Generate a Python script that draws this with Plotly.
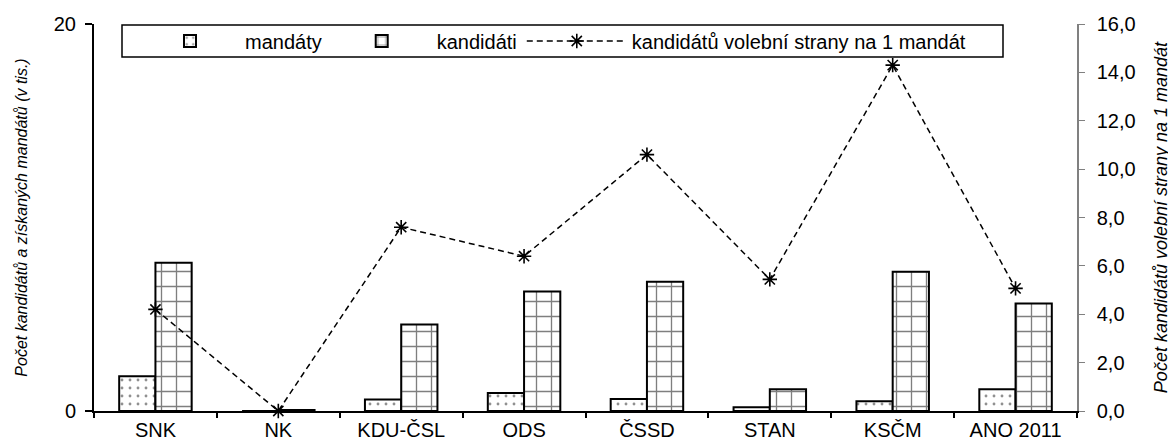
import plotly.graph_objects as go

categories = ["SNK", "NK", "KDU-ČSL", "ODS", "ČSSD", "STAN", "KSČM", "ANO 2011"]
mandaty = [1.8, 0.0, 0.6, 0.93, 0.62, 0.2, 0.5, 1.13]
kandidati = [7.66, 0.05, 4.47, 6.17, 6.68, 1.13, 7.2, 5.55]
na_mandat = [4.2, 0.0, 7.6, 6.4, 10.6, 5.44, 14.3, 5.07]

left_ticks = [0, 20]
right_ticks = [0, 2, 4, 6, 8, 10, 12, 14, 16]

FONT = "Liberation Sans, Arial, sans-serif"
OFF = 8  # page offset of the figure (default body margin)
W, H = 1176 - OFF, 441 - OFF
# plot area in page pixels: x 94..1077, y 24..411
ML = 94 - OFF
MR = W - (1077 - OFF)
MT = 24 - OFF
MB = H - (411 - OFF)
PW = W - ML - MR
PH = H - MT - MB


def px_x(p):  # page px -> paper
    return (p - OFF - ML) / PW


def px_y(p):
    return (H - MB - (p - OFF)) / PH


fig = go.Figure()
fig.add_trace(go.Bar(
    x=categories, y=mandaty, name="mandáty",
    marker=dict(color="white", line=dict(color="black", width=2),
                pattern=dict(shape=".", size=8, solidity=0.1, fgcolor="#222222", bgcolor="white")),
))
fig.add_trace(go.Bar(
    x=categories, y=kandidati, name="kandidáti",
    marker=dict(color="white", line=dict(color="black", width=2),
                pattern=dict(shape="+", size=15, solidity=0.17, fgcolor="black", bgcolor="white")),
))
fig.add_trace(go.Scatter(
    x=categories, y=na_mandat, name="kandidátů volební strany na 1 mandát",
    yaxis="y2", mode="lines+markers", cliponaxis=False,
    line=dict(color="black", width=1.5, dash="6px,4px"),
    marker=dict(symbol="asterisk-open", size=12, color="black", line=dict(color="black", width=1.6)),
))

# legend frame
fig.add_shape(type="rect", xref="paper", yref="paper",
              x0=px_x(122), x1=px_x(1003), y0=px_y(57), y1=px_y(25),
              line=dict(color="black", width=1.5), fillcolor="white", layer="above")

fig.update_layout(
    width=W, height=H,
    margin=dict(l=ML, r=MR, t=MT, b=MB),
    paper_bgcolor="white", plot_bgcolor="white",
    font=dict(family=FONT, size=20, color="black"),
    separators=", ",
    barmode="group", bargap=0.41, bargroupgap=0,
    showlegend=True,
    legend=dict(
        orientation="h", x=px_x(135), y=px_y(41), xanchor="left", yanchor="middle",
        bgcolor="rgba(0,0,0,0)", borderwidth=0,
        font=dict(family=FONT, size=20), itemwidth=100,
    ),
    xaxis=dict(
        type="category", showline=True, linecolor="black", linewidth=2,
        ticks="outside", ticklen=5, tickwidth=1.5, tickcolor="black",
        tickson="boundaries", showgrid=False, zeroline=False,
        tickfont=dict(size=20), automargin=False,
    ),
    yaxis=dict(
        range=[0, 20], tickvals=left_ticks, ticktext=[str(v) for v in left_ticks],
        showline=True, linecolor="black", linewidth=2,
        ticks="outside", ticklen=7, tickcolor="black", tickwidth=1.5,
        ticklabelstandoff=5,
        showgrid=False, zeroline=False, automargin=False,
        title=dict(text="<i>Počet kandidátů a získaných mandátů (v tis.)</i>",
                   font=dict(size=16), standoff=22),
        tickfont=dict(size=20),
    ),
    yaxis2=dict(
        range=[0, 16], tickvals=right_ticks, tickformat=".1f",
        overlaying="y", side="right",
        showline=True, linecolor="#808080", linewidth=1.5,
        ticks="outside", ticklen=6, tickcolor="#808080", tickwidth=1,
        ticklabelstandoff=8,
        showgrid=False, zeroline=False, automargin=False,
        title=dict(text="<i>Počet kandidátů volební strany na 1 mandát</i>",
                   font=dict(size=18), standoff=20),
        tickfont=dict(size=20),
    ),
)

fig.write_html("out.html")
